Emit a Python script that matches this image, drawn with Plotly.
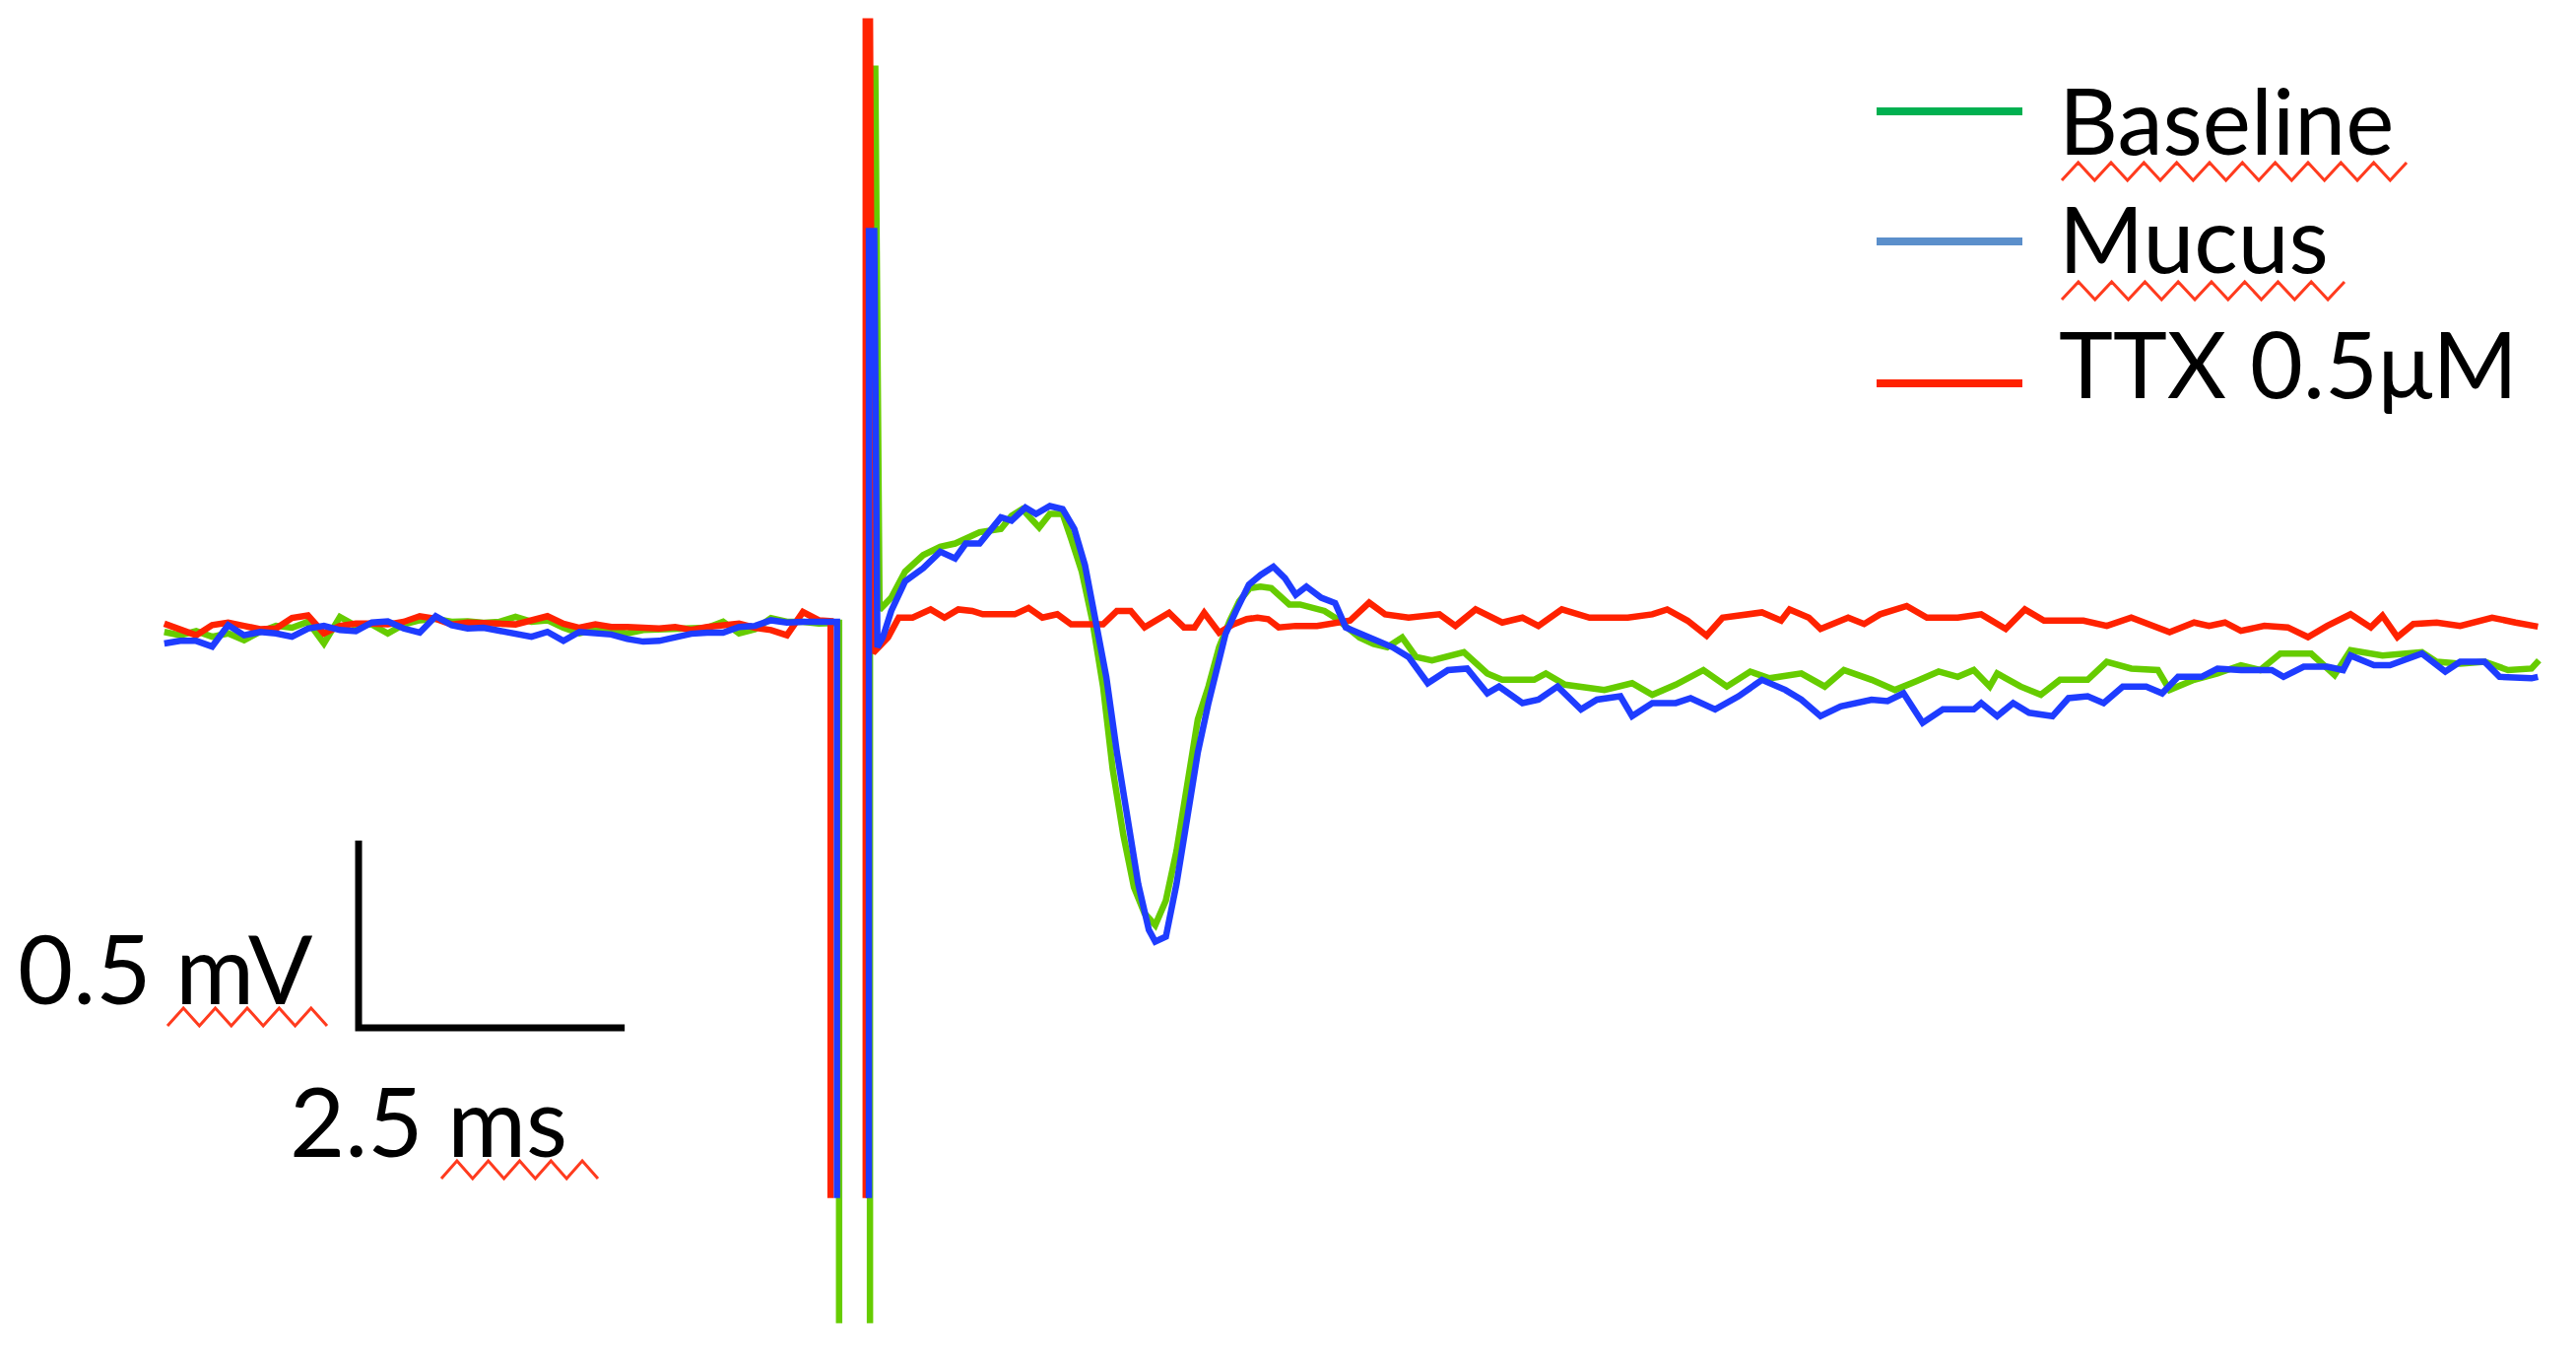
import numpy as np
import plotly.graph_objects as go

W, H = 2615, 1374

# ---------------- data (time in ms, voltage in mV) ----------------
# pre-stimulus baseline sampled every 0.15 ms
pre_t = np.round(np.arange(42) * 0.15, 2)

baseline_pre = [-0.009, -0.018, -0.007, -0.022, -0.013, -0.031, -0.009, 0.007, 0.002, 0.018,
                -0.040, 0.031, 0.007, 0.011, -0.013, 0.011, 0.022, 0.026, 0.018, 0.019,
                0.015, 0.018, 0.031, 0.018, 0.022, 0.002, -0.013, -0.002, -0.007, -0.013,
                -0.004, -0.002, -0.004, 0.0, 0.002, 0.018, -0.013, -0.002, 0.028, 0.018,
                0.018, 0.013]
mucus_pre = [-0.040, -0.033, -0.033, -0.048, 0.009, -0.018, -0.009, -0.013, -0.022, 0.0,
             0.007, -0.004, -0.007, 0.016, 0.019, 0.0, -0.011, 0.033, 0.009, 0.0,
             0.002, -0.007, -0.013, -0.022, -0.009, -0.033, -0.009, -0.013, -0.016, -0.028,
             -0.035, -0.033, -0.022, -0.014, -0.011, -0.011, 0.004, 0.007, 0.022, 0.016,
             0.018, 0.018]
ttx_pre = [0.013, -0.004, -0.018, 0.009, 0.016, 0.007, -0.002, 0.0, 0.028, 0.035,
           -0.013, 0.007, 0.013, 0.013, 0.011, 0.018, 0.033, 0.026, 0.011, 0.016,
           0.016, 0.013, 0.011, 0.022, 0.033, 0.013, 0.002, 0.011, 0.004, 0.004,
           0.0, 0.0, 0.004, -0.004, 0.004, 0.007, 0.013, 0.002, -0.004, -0.018,
           0.044, 0.022]

# stimulus artefact (None = clipped part of the recording)
baseline_art_t = [6.34, 6.34, None, 6.63, 6.63, 6.68, 6.72]
baseline_art_v = [0.015, -1.855, None, -1.855, 1.495, 1.495, 0.050]
mucus_art_t = [6.32, 6.32, None, 6.62, 6.62, 6.67, 6.70]
mucus_art_v = [0.018, -1.521, None, -1.521, 1.061, 1.061, -0.050]
ttx_art_t = [6.26, 6.26, None, 6.59, 6.59, 6.63, 6.66]
ttx_art_v = [0.020, -1.521, None, -1.521, 1.621, 1.621, -0.065]

# post-stimulus responses
baseline_post_t = [6.83, 6.96, 7.13, 7.29, 7.43, 7.53, 7.66, 7.86, 7.96, 8.06, 8.22, 8.32, 8.44, 8.52,
                   8.62, 8.72, 8.82, 8.91, 9.01, 9.11, 9.21, 9.31, 9.41, 9.51, 9.61, 9.71, 9.81,
                   9.91, 10.01, 10.10, 10.20, 10.30, 10.40, 10.50, 10.57, 10.67, 10.80, 10.90,
                   11.00, 11.10, 11.23, 11.36, 11.49, 11.63, 11.76, 11.91, 12.21, 12.43, 12.57,
                   12.87, 12.98, 13.16, 13.39, 13.53, 13.79, 13.98, 14.20, 14.46, 14.68, 14.90,
                   15.08, 15.38, 15.60, 15.78, 16.04, 16.26, 16.45, 16.67, 16.85, 17.00, 17.15,
                   17.22, 17.44, 17.63, 17.81, 18.07, 18.25, 18.48, 18.73, 18.84, 19.07, 19.29,
                   19.51, 19.69, 19.88, 20.17, 20.39, 20.54, 20.84, 21.21, 21.35, 21.57, 21.80,
                   22.02, 22.24, 22.31]
baseline_post_v = [0.082, 0.152, 0.196, 0.218, 0.227, 0.240, 0.257, 0.266, 0.301, 0.319, 0.270,
                   0.306, 0.306, 0.240, 0.152, 0.020, -0.155, -0.375, -0.551, -0.691, -0.761,
                   -0.792, -0.726, -0.594, -0.419, -0.243, -0.155, -0.050, 0.020, 0.073, 0.108,
                   0.112, 0.108, 0.082, 0.064, 0.064, 0.055, 0.047, 0.029, 0.007, -0.024, -0.041,
                   -0.050, -0.024, -0.076, -0.085, -0.063, -0.120, -0.137, -0.137, -0.120, -0.150,
                   -0.159, -0.164, -0.146, -0.177, -0.150, -0.111, -0.155, -0.115, -0.133, -0.120,
                   -0.155, -0.111, -0.137, -0.164, -0.142, -0.115, -0.129, -0.111, -0.155, -0.120,
                   -0.155, -0.177, -0.137, -0.137, -0.089, -0.107, -0.111, -0.164, -0.137, -0.120,
                   -0.098, -0.111, -0.067, -0.067, -0.124, -0.058, -0.072, -0.063, -0.089, -0.094,
                   -0.089, -0.111, -0.107, -0.085]

mucus_post_t = [6.75, 6.83, 6.96, 7.13, 7.29, 7.43, 7.53, 7.66, 7.86, 7.96, 8.09, 8.19, 8.32, 8.44,
                8.55, 8.65, 8.75, 8.85, 8.95, 9.05, 9.15, 9.25, 9.31, 9.41, 9.51, 9.61, 9.71, 9.81,
                9.91, 9.97, 10.07, 10.19, 10.30, 10.42, 10.53, 10.63, 10.73, 10.87, 11.00, 11.10,
                11.39, 11.54, 11.69, 11.87, 12.06, 12.24, 12.43, 12.54, 12.76, 12.91, 13.09, 13.31,
                13.46, 13.68, 13.79, 13.98, 14.20, 14.34, 14.57, 14.79, 15.01, 15.23, 15.38, 15.56,
                15.75, 16.04, 16.19, 16.34, 16.52, 16.71, 17.00, 17.07, 17.22, 17.37, 17.52, 17.74,
                17.89, 18.07, 18.22, 18.40, 18.62, 18.77, 18.92, 19.14, 19.29, 19.51, 19.80, 19.91,
                20.10, 20.32, 20.47, 20.54, 20.76, 20.91, 21.21, 21.43, 21.57, 21.80, 21.94, 22.24,
                22.30]
mucus_post_v = [-0.024, 0.047, 0.126, 0.161, 0.205, 0.187, 0.227, 0.227, 0.297, 0.288, 0.323, 0.306,
                0.327, 0.319, 0.266, 0.169, 0.020, -0.129, -0.331, -0.507, -0.682, -0.805, -0.836,
                -0.823, -0.682, -0.507, -0.331, -0.199, -0.094, -0.015, 0.047, 0.117, 0.143, 0.165,
                0.134, 0.090, 0.112, 0.082, 0.068, 0.003, -0.032, -0.050, -0.076, -0.146, -0.111,
                -0.107, -0.173, -0.155, -0.199, -0.190, -0.155, -0.216, -0.190, -0.181, -0.234,
                -0.199, -0.199, -0.186, -0.216, -0.181, -0.137, -0.164, -0.190, -0.234, -0.208,
                -0.190, -0.194, -0.173, -0.252, -0.216, -0.216, -0.199, -0.234, -0.199, -0.225,
                -0.234, -0.186, -0.181, -0.199, -0.155, -0.155, -0.173, -0.129, -0.129, -0.107,
                -0.111, -0.111, -0.129, -0.102, -0.102, -0.111, -0.072, -0.098, -0.098, -0.067,
                -0.115, -0.089, -0.089, -0.129, -0.133, -0.129]

ttx_post_t = [6.80, 6.90, 7.03, 7.20, 7.33, 7.46, 7.59, 7.69, 7.86, 7.99, 8.12, 8.25, 8.39, 8.52,
              8.68, 8.82, 8.95, 9.08, 9.21, 9.31, 9.44, 9.58, 9.68, 9.77, 9.91, 10.04, 10.17,
              10.27, 10.37, 10.47, 10.63, 10.83, 10.95, 11.14, 11.32, 11.47, 11.69, 11.98, 12.13,
              12.32, 12.57, 12.76, 12.91, 13.13, 13.39, 13.75, 13.98, 14.12, 14.31, 14.49, 14.64,
              14.94, 15.01, 15.19, 15.27, 15.45, 15.56, 15.82, 15.97, 16.12, 16.37, 16.56, 16.85,
              17.07, 17.30, 17.48, 17.66, 18.03, 18.25, 18.48, 18.70, 18.84, 19.07, 19.21, 19.36,
              19.51, 19.73, 19.95, 20.14, 20.32, 20.54, 20.73, 20.84, 20.98, 21.13, 21.35, 21.57,
              21.87, 22.09, 22.30]
ttx_post_v = [-0.024, 0.029, 0.029, 0.051, 0.029, 0.051, 0.047, 0.038, 0.038, 0.038, 0.055, 0.029,
              0.038, 0.011, 0.011, 0.011, 0.047, 0.047, 0.003, 0.020, 0.042, 0.003, 0.003, 0.042,
              -0.011, 0.011, 0.025, 0.029, 0.025, 0.003, 0.007, 0.007, 0.012, 0.021, 0.069, 0.038,
              0.029, 0.038, 0.007, 0.051, 0.016, 0.029, 0.007, 0.051, 0.029, 0.029, 0.038, 0.051,
              0.021, -0.019, 0.029, 0.038, 0.043, 0.021, 0.051, 0.029, -0.001, 0.029, 0.012,
              0.038, 0.060, 0.029, 0.029, 0.038, -0.001, 0.051, 0.021, 0.021, 0.007, 0.029,
              0.003, -0.010, 0.016, 0.007, 0.016, -0.006, 0.007, 0.003, -0.023, 0.007, 0.038,
              0.003, 0.034, -0.023, 0.012, 0.016, 0.007, 0.029, 0.016, 0.005]

series_names = ["Baseline", "Mucus", "TTX 0.5\u03bcM"]
trace_colors = ["#66CC00", "#1E3CFF", "#FF2200"]
legend_colors = ["#00B050", "#5B8FCB", "#FF2200"]

SCALE_MV = 0.5
SCALE_MS = 2.5

# ---------------- layout constants ----------------
X_RANGE = [-1.5433, 22.658]
Y_RANGE = [-1.9374, 1.6784]
SCALE_ORIGIN = (1.8255, -1.0663)
FONT = "Lato"


def px(x):
    return x / W


def py(y):
    return 1 - y / H


def concat(*parts):
    out = []
    for p in parts:
        out.extend(list(p))
    return out


fig = go.Figure()

traces = [
    (concat(pre_t, baseline_art_t, baseline_post_t), concat(baseline_pre, baseline_art_v, baseline_post_v), 0),
    (concat(pre_t, ttx_art_t, ttx_post_t), concat(ttx_pre, ttx_art_v, ttx_post_v), 2),
    (concat(pre_t, mucus_art_t, mucus_post_t), concat(mucus_pre, mucus_art_v, mucus_post_v), 1),
]
for t, v, i in traces:
    fig.add_trace(go.Scatter(x=t, y=v, mode="lines", name=series_names[i],
                             line=dict(color=trace_colors[i], width=6.5),
                             connectgaps=False, showlegend=False, hoverinfo="skip"))

# scale bar (data units)
x0, y0 = SCALE_ORIGIN
fig.add_trace(go.Scatter(x=[x0, x0, x0 + SCALE_MS], y=[y0 + SCALE_MV, y0, y0],
                         mode="lines", line=dict(color="black", width=7),
                         showlegend=False, hoverinfo="skip"))

annotations = []
shapes = []


def label(text, x, ycenter, size):
    annotations.append(dict(text=text, x=px(x), y=py(ycenter), xref="paper", yref="paper",
                            xanchor="left", yanchor="middle", showarrow=False,
                            font=dict(family=FONT, size=size, color="black")))


def squiggle(xa, xb, yc, amp=9, period=33):
    n = int(round((xb - xa) / (period / 2)))
    step = (xb - xa) / n
    pts = []
    for k in range(n + 1):
        yy = yc + (amp if k % 2 == 0 else -amp)
        pts.append(f"{px(xa + k * step):.5f},{py(yy):.5f}")
    path = "M " + " L ".join(pts)
    shapes.append(dict(type="path", path=path, xref="paper", yref="paper",
                       line=dict(color="#FF3B1E", width=3)))


# legend drawn by hand (long sample lines)
legend_rows = [121.5, 241, 368.5]
legend_line_y = [113, 245, 389]
for i in range(3):
    shapes.append(dict(type="line", xref="paper", yref="paper",
                       x0=px(1905), x1=px(2053), y0=py(legend_line_y[i]), y1=py(legend_line_y[i]),
                       line=dict(color=legend_colors[i], width=8)))
    label(series_names[i], 2088, legend_rows[i], 93)

squiggle(2093, 2443, 174)
squiggle(2093, 2380, 295)

# scale bar labels
label(f"{SCALE_MV} mV", 16, 981, 97)
label(f"{SCALE_MS} ms", 292, 1136, 97)
squiggle(170, 332, 1032)
squiggle(448, 607, 1187)

fig.update_layout(
    width=W, height=H,
    margin=dict(l=0, r=0, t=0, b=0),
    paper_bgcolor="white", plot_bgcolor="white",
    xaxis=dict(range=X_RANGE, visible=False, fixedrange=True),
    yaxis=dict(range=Y_RANGE, visible=False, fixedrange=True),
    annotations=annotations, shapes=shapes,
    showlegend=False,
)

fig.write_html("out.html", config={"displayModeBar": False},
               post_script="document.body.style.margin='0';document.body.style.overflow='hidden';")
